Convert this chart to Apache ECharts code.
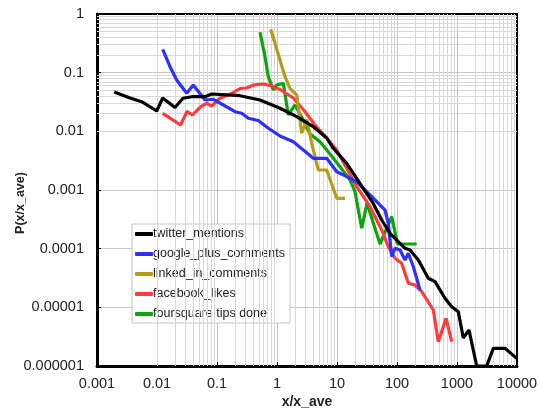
<!DOCTYPE html>
<html>
<head>
<meta charset="utf-8">
<script src="https://cdn.jsdelivr.net/npm/echarts@6/dist/echarts.min.js"></script>
<style>
  html, body { margin: 0; padding: 0; background: #fff; }
  #chart { width: 539px; height: 410px; }
</style>
</head>
<body>
<div id="chart"></div>
<script>
// Normalised activity distributions, P(x/x_ave) vs x/x_ave (log-log)
const seriesNames = ['twitter_mentions', 'google_plus_comments', 'linked_in_comments', 'facebook_likes', 'foursquare tips done'];
const seriesColors = ['#000000', '#2f2fff', '#b59b1c', '#ff3c3c', '#0ca30c'];

const twitterX = [0.00194, 0.00355, 0.00556, 0.00989, 0.01245, 0.01995, 0.0271, 0.0379, 0.0631, 0.0816, 0.2416, 0.5207, 1.122, 2.13, 4.03, 6.735, 8.677, 14.51, 27.13, 39.8, 55.6, 76.4, 136, 164.7, 226.5, 332.4, 430, 631, 816, 1051, 1274, 1585, 2130, 3126, 4027, 6310, 9886];
const twitterY = [0.0468, 0.037, 0.032, 0.0222, 0.037, 0.0255, 0.0366, 0.0389, 0.0389, 0.0433, 0.0405, 0.0342, 0.0247, 0.01777, 0.012, 0.0077, 0.00514, 0.00285, 0.00108, 0.000601, 0.000308, 0.000183, 0.0001015, 0.000095, 0.0000641, 0.0000313, 0.0000274, 0.00001426, 0.00001026, 0.00000843, 0.000003, 0.00000411, 0.000001, 0.000001, 0.000002, 0.000002, 0.00000135];

const googleX = [0.01245, 0.01647, 0.02129, 0.03126, 0.04027, 0.0631, 0.0868, 0.1274, 0.1995, 0.258, 0.3324, 0.488, 0.708, 1.122, 1.869, 2.744, 4.03, 6.735, 9.886, 14.51, 21.3, 31.26, 43.0, 63.1, 71.6, 81.6, 92.6, 112.2, 136, 154.3, 187, 241.7];
const googleY = [0.2502, 0.1264, 0.075, 0.0445, 0.0616, 0.0342, 0.0352, 0.0281, 0.0216, 0.0203, 0.0167, 0.0153, 0.0114, 0.00833, 0.00666, 0.00481, 0.00347, 0.00347, 0.00205, 0.001686, 0.001385, 0.000936, 0.000676, 0.000456, 0.000271, 0.000073, 0.0001015, 0.000095, 0.0000641, 0.0000834, 0.0000493, 0.00001975];

const linkedinX = [0.785, 0.926, 1.122, 1.359, 1.647, 2.13, 2.58, 3.162, 3.787, 4.88, 6.735, 9.886, 13.59];
const linkedinY = [0.5485, 0.3166, 0.1644, 0.0854, 0.0542, 0.0416, 0.00926, 0.0159, 0.00625, 0.002194, 0.002194, 0.000722, 0.000722];

const facebookX = [0.01245, 0.02464, 0.0316, 0.0391, 0.0541, 0.0673, 0.0816, 0.1122, 0.187, 0.2416, 0.3126, 0.4027, 0.591, 0.764, 1.122, 1.869, 2.929, 4.30, 6.735, 9.886, 14.51, 21.3, 35.5, 55.6, 71.6, 92.6, 119.7, 154.3, 199.5, 258, 402.7, 488, 655.7, 816];
const facebookY = [0.0203, 0.01282, 0.0218, 0.019, 0.0263, 0.0301, 0.027, 0.0366, 0.0456, 0.0537, 0.0548, 0.0616, 0.0641, 0.0604, 0.0516, 0.037, 0.0216, 0.01282, 0.0077, 0.00481, 0.002344, 0.001138, 0.000519, 0.000208, 0.000108, 0.0000686, 0.0000563, 0.0000257, 0.000024, 0.0000185, 0.00000901, 0.0000026, 0.00000651, 0.0000026];

const foursquareX = [0.5207, 0.631, 0.716, 0.868, 0.9886, 1.274, 1.543, 1.995, 2.744, 3.548, 5.21, 7.64, 11.22, 16.47, 19.95, 25.8, 31.6, 52.1, 81.6, 101.9, 213];
const foursquareY = [0.4876, 0.1872, 0.0854, 0.0507, 0.0616, 0.0659, 0.019, 0.0281, 0.0156, 0.00901, 0.00666, 0.00411, 0.002496, 0.001481, 0.000936, 0.0002226, 0.000594, 0.0001201, 0.000351, 0.0001201, 0.0001201];

const xTickLabels = ['0.001', '0.01', '0.1', '1', '10', '100', '1000', '10000'];
const yTickLabels = ['0.000001', '0.00001', '0.0001', '0.001', '0.01', '0.1', '1'];

const xDecades = [-3, -2, -1, 0, 1, 2, 3];
const yDecades = [-6, -5, -4, -3, -2, -1];
const minorSteps = [2, 3, 4, 5, 6, 7, 8, 9];

const FONT = 'Liberation Sans';

function pairs(xs, ys) { return xs.map((x, i) => [x, ys[i]]); }

// minor grid lines at 2..9 of every decade
const minorLines = [];
xDecades.forEach(e => minorSteps.forEach(m => minorLines.push({ xAxis: m * Math.pow(10, e) })));
yDecades.forEach(e => minorSteps.forEach(m => minorLines.push({ yAxis: m * Math.pow(10, e) })));

const dataSets = [[twitterX, twitterY], [googleX, googleY], [linkedinX, linkedinY], [facebookX, facebookY], [foursquareX, foursquareY]];

const lineSeries = seriesNames.map((name, i) => ({
  name: name,
  type: 'line',
  data: pairs(dataSets[i][0], dataSets[i][1]),
  showSymbol: false,
  symbol: 'none',
  color: seriesColors[i],
  lineStyle: { width: 3.2, color: seriesColors[i] },
  z: 10 - i
}));

const chart = echarts.init(document.getElementById('chart'), null, { renderer: 'canvas' });
chart.setOption({
  animation: false,
  textStyle: { fontFamily: FONT },
  grid: { left: 97, right: 22, top: 14, bottom: 44, containLabel: false, outerBoundsMode: 'none' },
  legend: {
    data: seriesNames,
    orient: 'vertical',
    left: 132,
    top: 224,
    backgroundColor: '#ffffff',
    borderColor: '#c4c4c4',
    borderWidth: 1,
    borderRadius: 0,
    padding: [3, 5, 2, 3],
    itemWidth: 18,
    itemHeight: 4,
    itemGap: 6,
    icon: 'roundRect',
    textStyle: { fontFamily: FONT, fontSize: 12.5, color: '#222', lineHeight: 14, padding: [0, 0, 0, -5] }
  },
  xAxis: [{
    type: 'log', logBase: 10, min: 0.001, max: 10000, interval: 1, splitNumber: 7,
    name: 'x/x_ave', nameLocation: 'middle', nameGap: 29, nameMoveOverlap: false,
    nameTextStyle: { fontFamily: FONT, fontWeight: 'bold', fontSize: 14, color: '#222' },
    axisLine: { show: true, lineStyle: { color: '#000', width: 3 } },
    axisTick: { show: true, inside: true, length: 4, lineStyle: { color: '#000', width: 1 } },
    axisLabel: { fontFamily: FONT, fontSize: 14.5, color: '#222', margin: 10,
      formatter: v => xTickLabels[Math.round(Math.log10(v)) + 3] },
    splitLine: { show: true, showMinLine: false, showMaxLine: false, lineStyle: { color: '#c4c4c4', width: 1 } }
  }, {
    type: 'log', logBase: 10, min: 0.001, max: 10000, position: 'top',
    axisLine: { show: true, lineStyle: { color: '#000', width: 2 } },
    axisTick: { show: false }, axisLabel: { show: false }, splitLine: { show: false }
  }],
  yAxis: [{
    type: 'log', logBase: 10, min: 0.000001, max: 1, interval: 1, splitNumber: 6,
    name: 'P(x/x_ave)', nameLocation: 'middle', nameGap: 70, nameMoveOverlap: false,
    nameTextStyle: { fontFamily: FONT, fontWeight: 'bold', fontSize: 12.5, color: '#222', padding: [0, 26, 0, 0] },
    axisLine: { show: true, lineStyle: { color: '#000', width: 3 } },
    axisTick: { show: true, inside: true, length: 4, lineStyle: { color: '#000', width: 1 } },
    axisLabel: { fontFamily: FONT, fontSize: 14.5, color: '#222', margin: 13,
      formatter: v => yTickLabels[Math.round(Math.log10(v)) + 6] },
    splitLine: { show: true, showMinLine: false, showMaxLine: false, lineStyle: { color: '#c4c4c4', width: 1 } }
  }, {
    type: 'log', logBase: 10, min: 0.000001, max: 1, position: 'right',
    axisLine: { show: true, lineStyle: { color: '#000', width: 2 } },
    axisTick: { show: false }, axisLabel: { show: false }, splitLine: { show: false }
  }],
  series: [{
    name: 'minor-grid',
    type: 'line',
    data: [],
    silent: true,
    z: 1,
    markLine: {
      silent: true,
      animation: false,
      symbol: ['none', 'none'],
      label: { show: false },
      emphasis: { disabled: true },
      lineStyle: { color: '#d8d8d8', width: 1, type: 'solid' },
      data: minorLines
    }
  }].concat(lineSeries)
});
</script>
</body>
</html>
